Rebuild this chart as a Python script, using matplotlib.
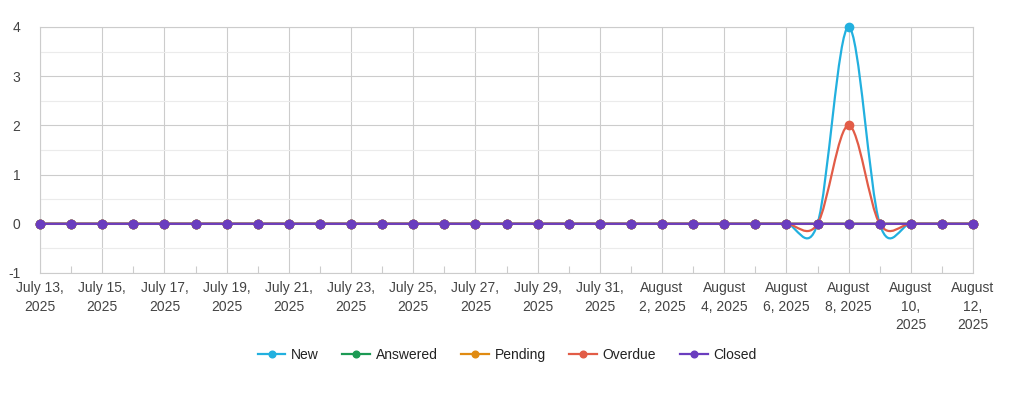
import matplotlib
matplotlib.use("Agg")
import matplotlib.pyplot as plt
from matplotlib.path import Path
from matplotlib.patches import PathPatch
from matplotlib.lines import Line2D
import numpy as np

plt.rcParams['font.family'] = ['Liberation Sans', 'DejaVu Sans']
plt.rcParams['axes.unicode_minus'] = False

# ---- data ----
dates = ["2025-07-13", "2025-07-14", "2025-07-15", "2025-07-16", "2025-07-17",
         "2025-07-18", "2025-07-19", "2025-07-20", "2025-07-21", "2025-07-22",
         "2025-07-23", "2025-07-24", "2025-07-25", "2025-07-26", "2025-07-27",
         "2025-07-28", "2025-07-29", "2025-07-30", "2025-07-31", "2025-08-01",
         "2025-08-02", "2025-08-03", "2025-08-04", "2025-08-05", "2025-08-06",
         "2025-08-07", "2025-08-08", "2025-08-09", "2025-08-10", "2025-08-11",
         "2025-08-12"]
new      = [0]*26 + [4] + [0]*4
answered = [0]*31
pending  = [0]*31
overdue  = [0]*26 + [2] + [0]*4
closed   = [0]*31

tick_labels = ["July 13,\n2025", "July 15,\n2025", "July 17,\n2025", "July 19,\n2025",
               "July 21,\n2025", "July 23,\n2025", "July 25,\n2025", "July 27,\n2025",
               "July 29,\n2025", "July 31,\n2025", "August\n2, 2025", "August\n4, 2025",
               "August\n6, 2025", "August\n8, 2025", "August\n10,\n2025", "August\n12,\n2025"]

series = [("New", new, "#22b0df"),
          ("Answered", answered, "#1c9a54"),
          ("Pending", pending, "#e08b12"),
          ("Overdue", overdue, "#e25c47"),
          ("Closed", closed, "#6a3dbf")]

# ---- figure ----
W, H = 1016, 397
fig = plt.figure(figsize=(W/100, H/100), dpi=100)
ax = fig.add_axes([40/W, 1-273/H, (973-40)/W, (273-27)/H])

x = np.arange(len(dates))

def catmull_path(xs, ys):
    xs = np.asarray(xs, float); ys = np.asarray(ys, float)
    n = len(xs)
    verts = [(xs[0], ys[0])]
    codes = [Path.MOVETO]
    def tangent(i):
        i0 = max(i-1, 0); i1 = min(i+1, n-1)
        return ((xs[i1]-xs[i0])/2.0, (ys[i1]-ys[i0])/2.0)
    for i in range(n-1):
        m1 = tangent(i); m2 = tangent(i+1)
        verts += [(xs[i]+m1[0]/3, ys[i]+m1[1]/3),
                  (xs[i+1]-m2[0]/3, ys[i+1]-m2[1]/3),
                  (xs[i+1], ys[i+1])]
        codes += [Path.CURVE4]*3
    return Path(verts, codes)

handles = []
for k, (name, vals, col) in enumerate(series):
    p = PathPatch(catmull_path(x, vals), facecolor='none', edgecolor=col, lw=1.6,
                  zorder=3+k, capstyle='round', joinstyle='round')
    ax.add_patch(p)
    ax.plot(x, vals, 'o', color=col, ms=6, mec=col, zorder=3+k, clip_on=False)
    handles.append(Line2D([0], [0], color=col, lw=1.6, marker='o', ms=4.8))

ax.set_xlim(0, len(dates)-1)
ax.set_ylim(-1, 4)
ax.set_yticks([-1, 0, 1, 2, 3, 4])
ax.set_yticks(np.arange(-0.5, 4, 1.0), minor=True)
ax.set_xticks(x[::2])
ax.set_xticks(x[1::2], minor=True)
ax.set_xticklabels(tick_labels)
for lab in ax.get_xticklabels():
    lab.set_linespacing(1.4)
    lab.set_verticalalignment('top')

ax.grid(True, which='major', color='#cccccc', lw=0.8, zorder=0)
ax.grid(True, which='minor', axis='y', color='#ebebeb', lw=0.8, zorder=0)
ax.set_axisbelow(True)
for s in ax.spines.values():
    s.set_color('#cccccc'); s.set_linewidth(0.8)

ax.tick_params(axis='both', which='major', length=0, labelsize=10, labelcolor='#444444')
ax.tick_params(axis='y', which='major', pad=14)
ax.tick_params(axis='x', which='major', pad=6)
ax.tick_params(axis='x', which='minor', direction='in', length=5, color='#cccccc', width=0.8)
ax.tick_params(axis='y', which='minor', length=0)

fig.legend(handles, [s[0] for s in series], loc='center', ncol=5,
           bbox_to_anchor=(507/W, 1-355/H), frameon=False, fontsize=10,
           handlelength=2.0, handletextpad=0.4, columnspacing=1.7,
           labelcolor='#222222')

fig.savefig("out.png", dpi=100, facecolor='white')
